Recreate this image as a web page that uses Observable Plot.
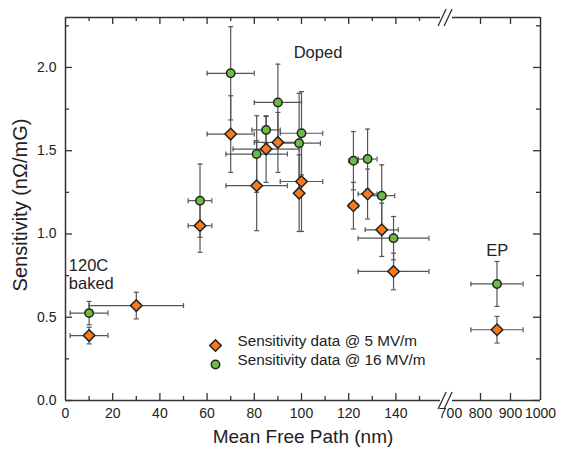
<!DOCTYPE html>
<html>
<head>
<meta charset="utf-8">
<script src="https://cdn.jsdelivr.net/npm/d3@7"></script>
<script src="https://cdn.jsdelivr.net/npm/@observablehq/plot@0.6"></script>
<style>
  html, body { margin: 0; padding: 0; background: #fff; }
  #chart { width: 561px; height: 453px; }
  svg { font-family: "Liberation Sans", Arial, Helvetica, sans-serif; }
</style>
</head>
<body>
<div id="chart"></div>
<script>
// ---- data: Sensitivity data @ 5 MV/m (orange diamonds)
const mfp5   = [10, 30, 57, 70, 81, 85, 90, 99, 100, 122, 128, 134, 139, 855];
const sens5  = [0.39, 0.57, 1.05, 1.60, 1.29, 1.51, 1.55, 1.245, 1.315, 1.17, 1.24, 1.025, 0.775, 0.425];
const mfpErr5  = [8, 20, 5, 10, 13, 14, 10, 1, 9, 2, 4, 7, 15, 87];
const sensErr5 = [0.05, 0.08, 0.16, 0.23, 0.27, 0.20, 0.18, 0.23, 0.30, 0.14, 0.15, 0.16, 0.11, 0.08];

// ---- data: Sensitivity data @ 16 MV/m (green circles)
const mfp16   = [10, 57, 70, 81, 85, 90, 99, 100, 122, 128, 134, 139, 855];
const sens16  = [0.525, 1.20, 1.965, 1.48, 1.625, 1.79, 1.545, 1.605, 1.44, 1.45, 1.23, 0.975, 0.70];
const mfpErr16  = [8, 5, 10, 13, 6, 10, 9, 9, 2, 4, 5.5, 15, 87];
const sensErr16 = [0.07, 0.22, 0.28, 0.23, 0.08, 0.23, 0.30, 0.25, 0.175, 0.18, 0.185, 0.13, 0.135];

// ---- axes
const xTickLabels = [0, 20, 40, 60, 80, 100, 120, 140, 700, 800, 900, 1000];
const xMajorTicks = [20, 40, 60, 80, 100, 120, 140, 800, 900];
const xMinorTicks = [10, 30, 50, 70, 90, 110, 130, 150];
const yTickLabels = [0, 0.5, 1.0, 1.5, 2.0];
const yMinorTicks = [0.25, 0.75, 1.25, 1.75, 2.25];
const xBreak = [160, 700];
const xMax = 1000;
const yMax = 2.3;
const xTitle = "Mean Free Path (nm)";
const yTitle = "Sensitivity (nΩ/mG)";
const legendLabels = ["Sensitivity data @ 5 MV/m", "Sensitivity data @ 16 MV/m"];

// ---- annotations
const noteText = ["Doped", "120C", "baked", "EP"];
const noteX = [107, 1.4, 1.4, 856];
const noteY = [2.09, 0.81, 0.70, 0.90];
const noteAnchor = ["middle", "start", "start", "middle"];

const orange = "#f47b20";
const green = "#69bd45";
const edge = "#222";
const barColor = "#555";
const axisColor = "#333";

const d5 = mfp5.map((x, i) => ({x, y: sens5[i], xe: mfpErr5[i], ye: sensErr5[i]}));
const d16 = mfp16.map((x, i) => ({x, y: sens16[i], xe: mfpErr16[i], ye: sensErr16[i]}));
const notes = noteText.map((t, i) => ({t, x: noteX[i], y: noteY[i], a: noteAnchor[i]}));

const capH = {draw(ctx, size) { const r = Math.sqrt(size / Math.PI); ctx.moveTo(-r, 0); ctx.lineTo(r, 0); }};
const capV = {draw(ctx, size) { const r = Math.sqrt(size / Math.PI); ctx.moveTo(0, -r); ctx.lineTo(0, r); }};
const slashes = {draw(ctx, size) {
  const r = Math.sqrt(size / Math.PI);
  ctx.moveTo(-5, r); ctx.lineTo(3, -r);
  ctx.moveTo(1, r); ctx.lineTo(9, -r);
}};

const W = 561, H = 453, mL = 65, mR = 21, mT = 17, mB = 53;
const fw = W - mL - mR, fh = H - mT - mB;

function errMarks(data) {
  const s = {stroke: barColor, strokeWidth: 1.2};
  return [
    Plot.ruleY(data, {y: "y", x1: d => d.x - d.xe, x2: d => d.x + d.xe, ...s}),
    Plot.ruleX(data, {x: "x", y1: d => d.y - d.ye, y2: d => d.y + d.ye, ...s}),
    Plot.dot(data, {x: d => d.x - d.xe, y: "y", symbol: capV, r: 2.5, fill: "none", ...s}),
    Plot.dot(data, {x: d => d.x + d.xe, y: "y", symbol: capV, r: 2.5, fill: "none", ...s}),
    Plot.dot(data, {x: "x", y: d => d.y - d.ye, symbol: capH, r: 2.5, fill: "none", ...s}),
    Plot.dot(data, {x: "x", y: d => d.y + d.ye, symbol: capH, r: 2.5, fill: "none", ...s})
  ];
}

const chart = Plot.plot({
  width: W, height: H,
  marginLeft: mL, marginRight: mR, marginTop: mT, marginBottom: mB,
  style: {fontFamily: '"Liberation Sans", Arial, Helvetica, sans-serif', color: "#222", background: "#fff"},
  x: {type: "linear", domain: [0, xBreak[0], xBreak[1], xMax], range: [mL, mL + 377.6, mL + 385, W - mR], axis: null},
  y: {domain: [0, yMax], axis: null},
  marks: [
    // frame
    Plot.ruleX([0, xMax], {x: d => d, stroke: axisColor, strokeWidth: 1.5}),
    Plot.ruleY([0, yMax], {y: d => d, insetRight: 100, stroke: axisColor, strokeWidth: 1.5}),
    Plot.ruleY([0, yMax], {y: d => d, insetLeft: 387, stroke: axisColor, strokeWidth: 1.5}),
    Plot.dot([0, yMax], {x: () => xBreak[0], y: d => d, symbol: slashes, r: 8.5, fill: "none", stroke: axisColor, strokeWidth: 1.3}),
    // ticks (inward)
    Plot.ruleX(xMajorTicks, {x: d => d, insetTop: fh - 7, stroke: axisColor, strokeWidth: 1.3}),
    Plot.ruleX(xMajorTicks, {x: d => d, insetBottom: fh - 7, stroke: axisColor, strokeWidth: 1.3}),
    Plot.ruleX(xMinorTicks, {x: d => d, insetTop: fh - 4, stroke: axisColor, strokeWidth: 1.3}),
    Plot.ruleX(xMinorTicks, {x: d => d, insetBottom: fh - 4, stroke: axisColor, strokeWidth: 1.3}),
    Plot.ruleY(yTickLabels, {y: d => d, insetRight: fw - 7, stroke: axisColor, strokeWidth: 1.3}),
    Plot.ruleY(yTickLabels, {y: d => d, insetLeft: fw - 7, stroke: axisColor, strokeWidth: 1.3}),
    Plot.ruleY(yMinorTicks, {y: d => d, insetRight: fw - 4, stroke: axisColor, strokeWidth: 1.3}),
    Plot.ruleY(yMinorTicks, {y: d => d, insetLeft: fw - 4, stroke: axisColor, strokeWidth: 1.3}),
    // tick labels
    Plot.axisX({ticks: xTickLabels, tickSize: 0, tickPadding: 8, fontSize: 14, tickFormat: d => String(d), label: null}),
    Plot.axisY({ticks: yTickLabels, tickSize: 0, tickPadding: 9, fontSize: 14, tickFormat: d => d.toFixed(1), label: null}),
    // axis titles
    Plot.text([xTitle], {frameAnchor: "bottom", dy: 42, text: d => d, fontSize: 19, fill: "#222"}),
    Plot.text([yTitle], {frameAnchor: "left", dx: -45, dy: -4, rotate: -90, textAnchor: "middle", text: d => d, fontSize: 20, fill: "#222"}),
    // error bars
    ...errMarks(d5),
    ...errMarks(d16),
    // points
    Plot.dot(d5, {x: "x", y: "y", symbol: "diamond2", r: 5.2, fill: orange, stroke: edge, strokeWidth: 1.5}),
    Plot.dot(d16, {x: "x", y: "y", symbol: "circle", r: 4.2, fill: green, stroke: edge, strokeWidth: 1.5}),
    // annotations
    Plot.text(notes.filter(n => n.a === "middle"), {x: "x", y: "y", text: "t", fontSize: 16.5, fill: "#222", textAnchor: "middle"}),
    Plot.text(notes.filter(n => n.a === "start"), {x: "x", y: "y", text: "t", fontSize: 16.5, fill: "#222", textAnchor: "start"}),
    // legend
    Plot.dot([legendLabels[0]], {frameAnchor: "bottom-left", dx: 150, dy: -55, symbol: "diamond2", r: 5.2, fill: orange, stroke: edge, strokeWidth: 1.5}),
    Plot.dot([legendLabels[1]], {frameAnchor: "bottom-left", dx: 150, dy: -36, symbol: "circle", r: 4.2, fill: green, stroke: edge, strokeWidth: 1.5}),
    Plot.text([legendLabels[0]], {frameAnchor: "bottom-left", dx: 172, dy: -55, text: d => d, textAnchor: "start", fontSize: 15.3, fill: "#222"}),
    Plot.text([legendLabels[1]], {frameAnchor: "bottom-left", dx: 172, dy: -36, text: d => d, textAnchor: "start", fontSize: 15.3, fill: "#222"})
  ]
});
document.getElementById("chart").appendChild(chart);
</script>
</body>
</html>
